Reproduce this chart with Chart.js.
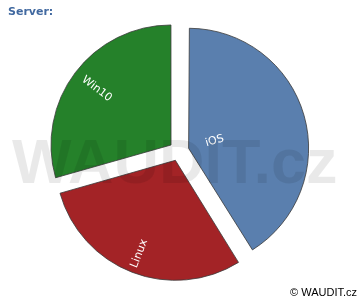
<!DOCTYPE html>
<html>
<head>
  <script src="https://cdn.jsdelivr.net/npm/chart.js@4.4.1/dist/chart.umd.min.js"></script>
<style>
  html, body { margin: 0; padding: 0; background: #fff; }
  #wrap { width: 360px; height: 300px; position: relative; }
</style>
</head>
<body>
  <div id="wrap"><canvas id="myChart" width="360" height="300"></canvas></div>
  <script>
    // data
    var labels = ['iOS', 'Linux', 'Win10'];
    var values = [7, 5, 5];
    var colors = ['#5a7fae', '#a32326', '#25812a'];

    // distance of each label from the pie centre
    var labelDist = [37, 110, 103];
    var pieR = 120;
    var pull = 40; // chart.js moves slices by offset/4

    // chart.js grows the radius of wide slices a bit when they are pulled out,
    // take that back so every slice has the same radius
    var evenRadius = {
      id: 'evenRadius',
      afterUpdate: function (chart) {
        chart.getDatasetMeta(0).data.forEach(function (arc) {
          var fix = 1 - Math.sin(Math.min(Math.PI, arc.circumference || 0));
          arc.outerRadius = pieR - (pull / 4) * fix;
        });
      }
    };

    var decor = {
      id: 'decor',
      afterDatasetsDraw: function (chart) {
        var ctx = chart.ctx;
        var arcs = chart.getDatasetMeta(0).data;
        ctx.save();
        ctx.fillStyle = '#fff';
        ctx.font = '11px "DejaVu Sans"';
        ctx.textAlign = 'center';
        ctx.textBaseline = 'middle';
        arcs.forEach(function (arc, i) {
          var p = arc.getProps(['x', 'y', 'startAngle', 'endAngle']);
          var mid = (p.startAngle + p.endAngle) / 2;
          var x = p.x + Math.cos(mid) * labelDist[i];
          var y = p.y + Math.sin(mid) * labelDist[i];
          var rot = mid;
          if (Math.cos(mid) < 0) rot += Math.PI;
          ctx.save();
          ctx.translate(x, y);
          ctx.rotate(rot);
          ctx.fillText(labels[i], 0, 0);
          ctx.restore();
        });

        // watermark
        ctx.fillStyle = 'rgba(0,0,0,0.085)';
        ctx.font = 'bold 63px "Liberation Sans"';
        ctx.textAlign = 'left';
        ctx.textBaseline = 'alphabetic';
        ctx.fillText('WAUDIT.cz', 12, 183);

        // title
        ctx.fillStyle = '#4169a0';
        ctx.font = 'bold 11px "DejaVu Sans"';
        ctx.fillText('Server:', 8, 15);

        // footer
        ctx.fillStyle = '#000';
        ctx.font = '11px "Liberation Sans"';
        ctx.textAlign = 'right';
        ctx.fillText('\u00a9 WAUDIT.cz', 357, 296);
        ctx.restore();
      }
    };

    new Chart(document.getElementById('myChart'), {
      type: 'pie',
      data: {
        labels: labels,
        datasets: [{
          data: values,
          backgroundColor: colors,
          borderColor: '#3a3a3a',
          borderWidth: 0.8,
          offset: pull,
          hoverOffset: 0,
          radius: pieR
        }]
      },
      options: {
        responsive: false,
        animation: false,
        layout: { padding: { left: 0, right: 2, top: 2, bottom: 0 } },
        plugins: {
          legend: { display: false },
          tooltip: { enabled: false }
        }
      },
      plugins: [evenRadius, decor]
    });
  </script>
</body>
</html>
